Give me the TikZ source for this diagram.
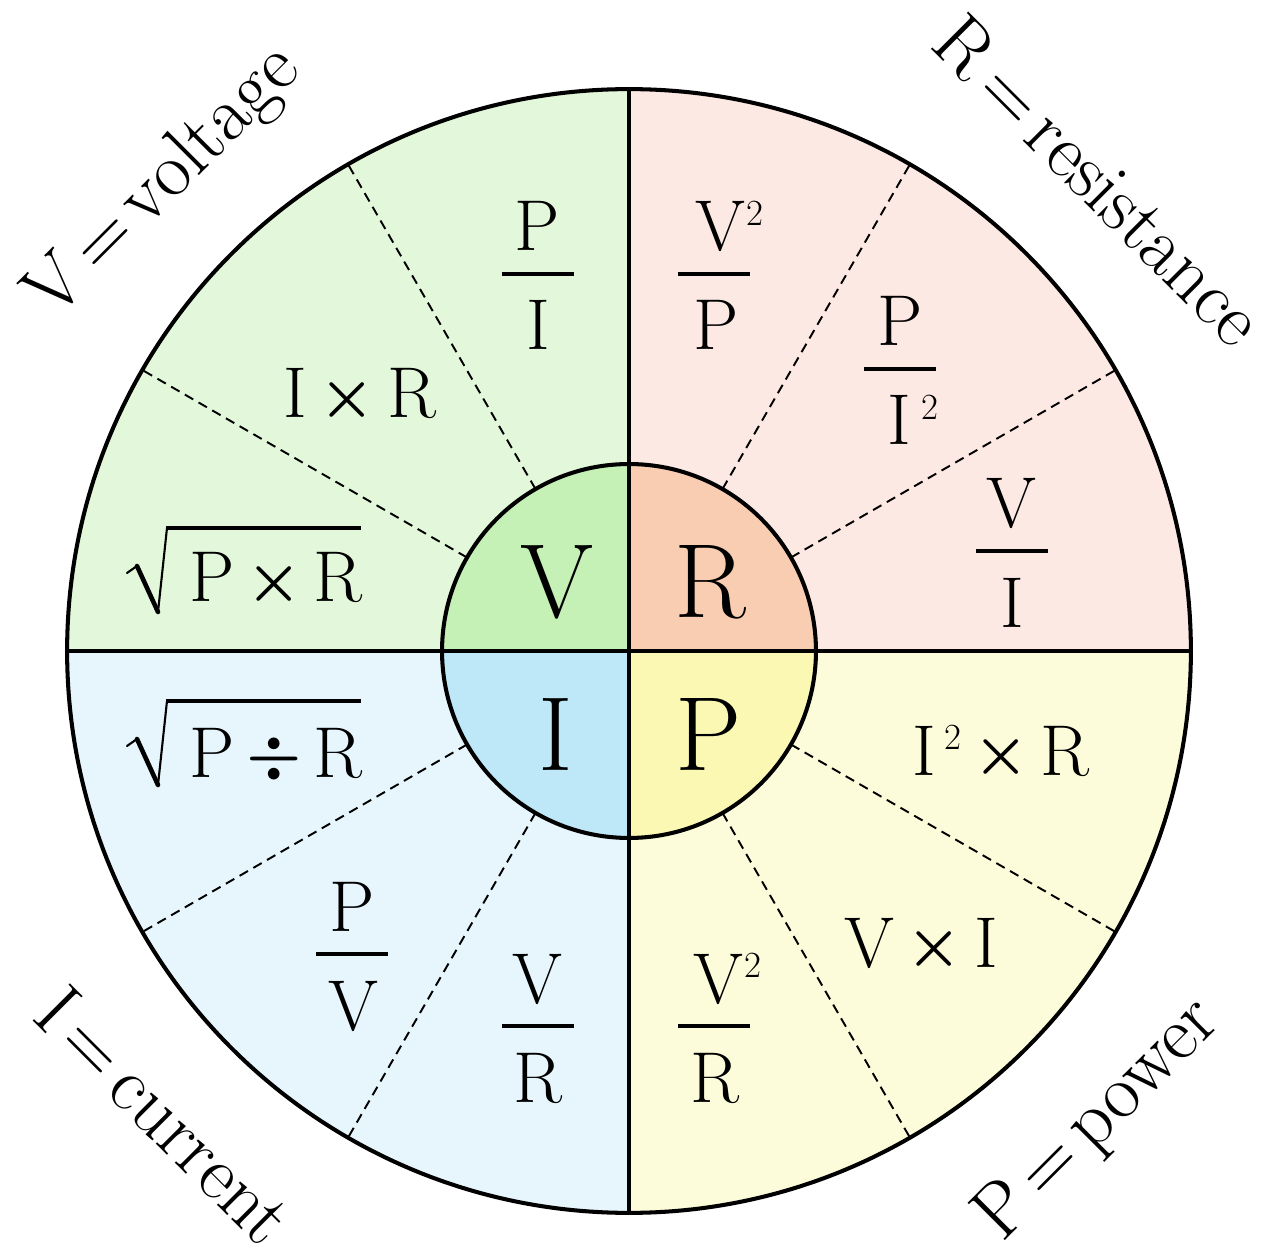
\documentclass[tikz,border=0pt]{standalone}
\usepackage{fix-cm}
\usepackage{amsmath}
\usetikzlibrary{calc}
\definecolor{cVo}{HTML}{E3F7DB}
\definecolor{cVi}{HTML}{C5F0B6}
\definecolor{cRo}{HTML}{FDE9E4}
\definecolor{cRi}{HTML}{F8CDB1}
\definecolor{cIo}{HTML}{E6F6FC}
\definecolor{cIi}{HTML}{BEE8F8}
\definecolor{cPo}{HTML}{FDFCDA}
\definecolor{cPi}{HTML}{FBF8B4}
\newcommand{\sqv}[1][1pt]{\rlap{\kern#1\raisebox{14.5pt}{\fontsize{21}{21}\selectfont 2}}}
\newcommand{\opsym}[1]{\mkern3mu\vcenter{\hbox{\scalebox{0.86}{$\boldsymbol{#1}$}}}\mkern3mu}
\newcommand{\tms}{\opsym{\times}}
\newcommand{\dvs}{\opsym{\div}}
\newcommand{\frc}[7]{%
  \node[fml] (#1n) at (#4,-#3+23) {#5};
  \node[fml] (#1d) at (#6,-#3-76) {#7};
  \draw[fracbar] (#2-36,-#3) -- (#2+36,-#3);
}
\newcommand{\radic}[1]{%
  \draw[line width=1.2pt,line cap=round] (127,-#1-45) -- (137,-#1-38);
  \draw[line width=2.6pt,line cap=round] (137,-#1-38) -- (158,-#1-84);
  \draw[line width=1.2pt,line cap=round] (158,-#1-84) -- (167,-#1);
  \draw[line width=2pt] (166,-#1) -- (361,-#1);
}
\begin{document}
\begin{tikzpicture}[x=0.02cm,y=0.02cm,
  rim/.style={line width=2.3pt},
  dashline/.style={line width=1.1pt,dash pattern=on 5.5pt off 3.5pt},
  fracbar/.style={line width=2pt},
  big/.style={font=\fontsize{60}{72}\selectfont,inner sep=0pt,anchor=base},
  fml/.style={font=\fontsize{41}{49}\selectfont,inner sep=0pt,anchor=base},
  lbl/.style={font=\fontsize{44}{52}\selectfont,inner sep=0pt,anchor=base}]
\useasboundingbox (0,0) rectangle (1279,-1260);
\fill[white] (0,0) rectangle (1279,-1260);
\coordinate (C) at (629,-651);
% outer sectors
\fill[cRo] (C) -- ++(0:11.24cm) arc[start angle=0,end angle=90,radius=11.24cm] -- cycle;
\fill[cVo] (C) -- ++(90:11.24cm) arc[start angle=90,end angle=180,radius=11.24cm] -- cycle;
\fill[cIo] (C) -- ++(180:11.24cm) arc[start angle=180,end angle=270,radius=11.24cm] -- cycle;
\fill[cPo] (C) -- ++(270:11.24cm) arc[start angle=270,end angle=360,radius=11.24cm] -- cycle;
% inner sectors
\fill[cRi] (C) -- ++(0:3.74cm) arc[start angle=0,end angle=90,radius=3.74cm] -- cycle;
\fill[cVi] (C) -- ++(90:3.74cm) arc[start angle=90,end angle=180,radius=3.74cm] -- cycle;
\fill[cIi] (C) -- ++(180:3.74cm) arc[start angle=180,end angle=270,radius=3.74cm] -- cycle;
\fill[cPi] (C) -- ++(270:3.74cm) arc[start angle=270,end angle=360,radius=3.74cm] -- cycle;
% dashed dividers
\foreach \a in {30,60,120,150,210,240,300,330}
  \draw[dashline] ($(C)+(\a:3.74cm)$) -- ($(C)+(\a:11.24cm)$);
% cross and circles
\draw[rim] ($(C)+(180:11.24cm)$) -- ($(C)+(0:11.24cm)$);
\draw[rim] ($(C)+(90:11.24cm)$) -- ($(C)+(270:11.24cm)$);
\draw[rim] (C) circle[radius=11.24cm];
\draw[rim] (C) circle[radius=3.74cm];
% centre letters
\node[big] (cV) at (557,-618) {V};
\node[big] (cR) at (710,-618) {R};
\node[big] (cI) at (556,-770) {I};
\node[big] (cP) at (709,-770) {P};
% V quadrant
\frc{pi}{538}{274}{537}{P}{538}{I}
\node[fml] (ixr) at (360,-418) {$\mathrm{I}\tms\mathrm{R}$};
\radic{528}
\node[fml] (sqpr) at (276,-602) {$\mathrm{P}\tms\mathrm{R}$};
% R quadrant
\frc{vp}{714}{274}{720}{V\sqv}{716}{P}
\frc{pii}{900}{369}{900}{P}{899}{I\sqv[6pt]}
\frc{vi}{1012}{551}{1011}{V}{1012}{I}
% I quadrant
\radic{701}
\node[fml] (sqpdr) at (276,-777) {$\mathrm{P}\dvs\mathrm{R}$};
\frc{pv}{352}{954}{352}{P}{353}{V}
\frc{vr}{538}{1026}{537}{V}{538}{R}
% P quadrant
\node[fml] (iir) at (1001,-775) {$\mathrm{I}\kern4.5pt\raisebox{14.5pt}{\fontsize{21}{21}\selectfont 2}\tms\mathrm{R}$};
\node[fml] (vxi) at (921,-967) {$\mathrm{V}\tms\mathrm{I}$};
\frc{vvr}{714}{1026}{718}{V\sqv}{715}{R}
% outer labels
\node[lbl,rotate=45] (lV) at (178,-197) {V\hspace{.15em}=\hspace{.15em}voltage};
\node[lbl,rotate=-45] (lR) at (1081,-199) {R\hspace{.15em}=\hspace{.15em}resistance};
\node[lbl,rotate=-45] (lI) at (146,-1134) {I\hspace{.15em}=\hspace{.15em}current};
\node[lbl,rotate=45] (lP) at (1112,-1134) {P\hspace{.15em}=\hspace{.15em}power};
\end{tikzpicture}
\end{document}
